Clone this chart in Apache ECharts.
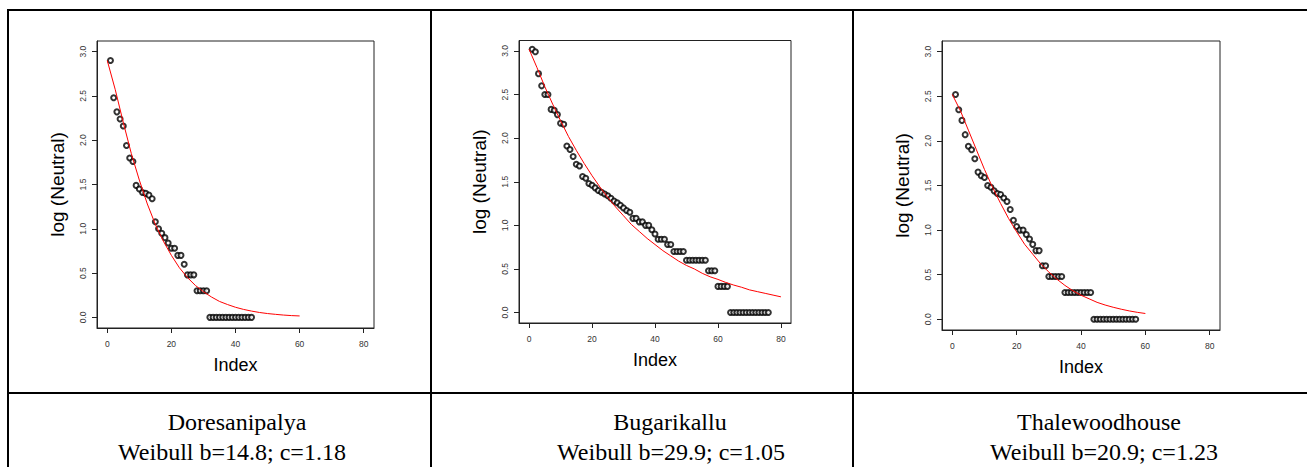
<!DOCTYPE html>
<html><head><meta charset="utf-8">
<script src="https://cdn.jsdelivr.net/npm/echarts@6/dist/echarts.min.js"></script>
<style>html,body{margin:0;padding:0;background:#fff;overflow:hidden;} #c{width:1307px;height:467px;}</style>
</head><body><div id="c"></div>
<script>
// ---- tick labels ----
const xTicks = [0, 20, 40, 60, 80];
const yTicks = [0, 0.5, 1, 1.5, 2, 2.5, 3];
const yTickLabels = ['0.0', '0.5', '1.0', '1.5', '2.0', '2.5', '3.0'];
const xTitle = 'Index';
const yTitle = 'log (Neutral)';

// ---- categories (sites) and fit labels ----
const sites = ['Doresanipalya', 'Bugarikallu', 'Thalewoodhouse'];
const fitLabels = ['Weibull b=14.8; c=1.18', 'Weibull b=29.9; c=1.05', 'Weibull b=20.9; c=1.23'];

// ---- observed log abundances (rank order, index starts at 1) ----
const doresanipalyaLog = [2.90, 2.48, 2.32, 2.24, 2.16, 1.94, 1.80, 1.76, 1.49, 1.45, 1.41, 1.40, 1.38, 1.34, 1.08,
  1.00, 0.95, 0.90, 0.84, 0.78, 0.78, 0.70, 0.70, 0.60, 0.48, 0.48, 0.48, 0.30, 0.30, 0.30, 0.30,
  0, 0, 0, 0, 0, 0, 0, 0, 0, 0, 0, 0, 0, 0];
const bugarikalluLog = [3.02, 2.99, 2.74, 2.60, 2.50, 2.50, 2.33, 2.32, 2.27, 2.17, 2.16, 1.91, 1.87, 1.79, 1.70,
  1.68, 1.56, 1.54, 1.48, 1.46, 1.43, 1.40, 1.38, 1.36, 1.34, 1.31, 1.28, 1.26, 1.23, 1.20,
  1.17, 1.15, 1.08, 1.08, 1.04, 1.04, 1.00, 1.00, 0.95, 0.90, 0.84, 0.84, 0.84, 0.78, 0.78,
  0.70, 0.70, 0.70, 0.70, 0.60, 0.60, 0.60, 0.60, 0.60, 0.60, 0.60, 0.48, 0.48, 0.48,
  0.30, 0.30, 0.30, 0.30, 0, 0, 0, 0, 0, 0, 0, 0, 0, 0, 0, 0, 0];
const thalewoodhouseLog = [2.52, 2.35, 2.23, 2.07, 1.94, 1.90, 1.80, 1.65, 1.61, 1.59, 1.50, 1.48, 1.44, 1.41, 1.40,
  1.36, 1.32, 1.23, 1.11, 1.04, 1.00, 1.00, 0.95, 0.90, 0.84, 0.77, 0.77, 0.60, 0.60,
  0.48, 0.48, 0.48, 0.48, 0.48, 0.30, 0.30, 0.30, 0.30, 0.30, 0.30, 0.30, 0.30, 0.30,
  0, 0, 0, 0, 0, 0, 0, 0, 0, 0, 0, 0, 0, 0];

// ---- fitted curves (red lines, read every 2.5 index units) ----
const doresanipalyaFitX = [0, 2.5, 5, 7.5, 10, 12.5, 15, 17.5, 20, 22.5, 25, 27.5, 30, 32.5, 35, 37.5, 40, 42.5, 45, 47.5, 50, 52.5, 55, 57.5, 60];
const doresanipalyaFitY = [2.90, 2.57, 2.20, 1.85, 1.55, 1.28, 1.05, 0.86, 0.70, 0.56, 0.45, 0.36, 0.29, 0.23, 0.18, 0.145, 0.114, 0.090, 0.071, 0.055, 0.043, 0.034, 0.026, 0.020, 0.016];
const bugarikalluFitX = [0, 2.5, 5, 7.5, 10, 12.5, 15, 17.5, 20, 22.5, 25, 27.5, 30, 32.5, 35, 37.5, 40, 42.5, 45, 47.5, 50, 52.5, 55, 57.5, 60, 62.5, 65, 67.5, 70, 72.5, 75, 77.5, 80];
const bugarikalluFitY = [3.02, 2.81, 2.59, 2.39, 2.20, 2.02, 1.86, 1.71, 1.57, 1.44, 1.32, 1.21, 1.11, 1.01, 0.93, 0.85, 0.78, 0.71, 0.65, 0.59, 0.54, 0.50, 0.45, 0.41, 0.38, 0.345, 0.315, 0.29, 0.26, 0.24, 0.22, 0.20, 0.18];
const thalewoodhouseFitX = [0, 2.5, 5, 7.5, 10, 12.5, 15, 17.5, 20, 22.5, 25, 27.5, 30, 32.5, 35, 37.5, 40, 42.5, 45, 47.5, 50, 52.5, 55, 57.5, 60];
const thalewoodhouseFitY = [2.52, 2.34, 2.12, 1.90, 1.68, 1.48, 1.30, 1.13, 0.98, 0.84, 0.73, 0.62, 0.53, 0.45, 0.38, 0.32, 0.27, 0.23, 0.19, 0.16, 0.135, 0.113, 0.094, 0.078, 0.065];

const observed = [doresanipalyaLog, bugarikalluLog, thalewoodhouseLog];
const fitX = [doresanipalyaFitX, bugarikalluFitX, thalewoodhouseFitX];
const fitY = [doresanipalyaFitY, bugarikalluFitY, thalewoodhouseFitY];

// ---- layout ----
const grids = [
  { left: 97, top: 41, width: 277, height: 287 },
  { left: 519, top: 40.5, width: 272, height: 282.5 },
  { left: 942, top: 41, width: 278, height: 289 }
];
const textCenters = [[237, 232], [670, 671], [1099, 1104]];

const sans = '"Liberation Sans", Arial, sans-serif';
const serif = '"Liberation Serif", "Times New Roman", serif';

const option = {
  animation: false,
  backgroundColor: '#fff',
  grid: grids.map(g => Object.assign({ show: true, borderColor: '#222', borderWidth: 1, backgroundColor: 'transparent' }, g)),
  xAxis: grids.map((g, i) => ({
    type: 'value', gridIndex: i, min: -3.2, max: 83.2,
    axisLine: { show: true, onZero: false, lineStyle: { color: '#222', width: 1 } },
    splitLine: { show: false },
    axisTick: { show: true, customValues: xTicks, length: 5, lineStyle: { color: '#222', width: 1 } },
    axisLabel: { customValues: xTicks, formatter: v => String(v), fontSize: 8.5, color: '#333', margin: 11, fontFamily: sans },
    name: xTitle, nameLocation: 'middle', nameGap: 28,
    nameTextStyle: { fontSize: 18, color: '#000', fontFamily: sans }
  })),
  yAxis: grids.map((g, i) => ({
    type: 'value', gridIndex: i, min: -0.12, max: 3.12,
    axisLine: { show: true, onZero: false, lineStyle: { color: '#222', width: 1 } },
    splitLine: { show: false },
    axisTick: { show: true, customValues: yTicks, length: 5, lineStyle: { color: '#222', width: 1 } },
    axisLabel: { customValues: yTicks, rotate: 90, formatter: v => yTickLabels[yTicks.indexOf(v)] || v.toFixed(1),
      fontSize: 8.5, color: '#333', margin: 10, fontFamily: sans },
    name: yTitle, nameLocation: 'middle', nameGap: 30,
    nameTextStyle: { fontSize: 19, color: '#000', fontFamily: sans }
  })),
  series: [],
  graphic: []
};

observed.forEach((vals, i) => {
  option.series.push({
    type: 'scatter', xAxisIndex: i, yAxisIndex: i, z: 2,
    symbol: 'emptyCircle', symbolSize: 5,
    itemStyle: { color: '#000', borderColor: '#000', borderWidth: 0.6 },
    data: vals.map((v, k) => [k + 1, v])
  });
  option.series.push({
    type: 'line', xAxisIndex: i, yAxisIndex: i, z: 3,
    showSymbol: false, smooth: false,
    lineStyle: { color: '#ff0000', width: 1 },
    data: fitX[i].map((x, k) => [x, fitY[i][k]])
  });
});

// table borders
const lineStyle = { stroke: '#000', lineWidth: 2 };
const segs = [[8, 10, 1307, 10], [8, 9, 8, 467], [431, 10, 431, 467], [853, 10, 853, 467], [8, 393, 1307, 393]];
segs.forEach(s => option.graphic.push({ type: 'line', shape: { x1: s[0], y1: s[1], x2: s[2], y2: s[3] }, style: lineStyle, silent: true }));

sites.forEach((name, i) => {
  option.graphic.push({ type: 'text', x: textCenters[i][0], y: 421.5,
    style: { text: name, fontSize: 24, fontFamily: serif, fill: '#000', align: 'center', verticalAlign: 'middle' } });
  option.graphic.push({ type: 'text', x: textCenters[i][1], y: 452,
    style: { text: fitLabels[i], fontSize: 24, fontFamily: serif, fill: '#000', align: 'center', verticalAlign: 'middle' } });
});

const chart = echarts.init(document.getElementById('c'), null, { renderer: 'svg', width: 1307, height: 467 });
chart.setOption(option);
</script>
</body></html>
